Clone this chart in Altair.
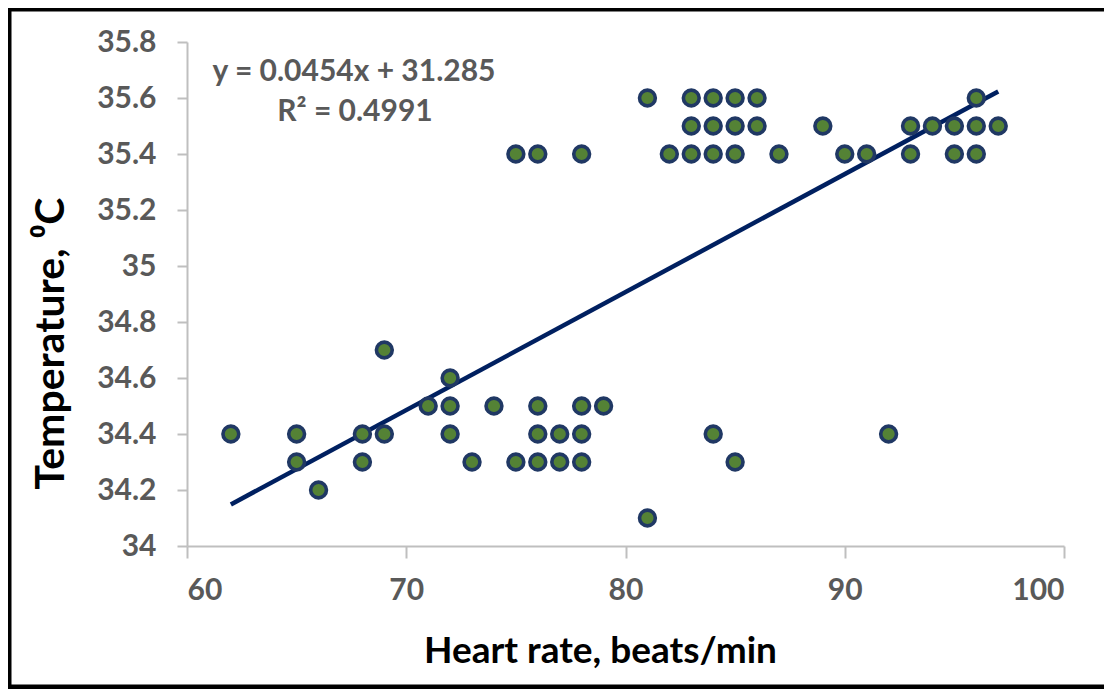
import altair as alt
import pandas as pd

heart_rate = [62, 65, 65, 66, 68, 68, 69, 69, 71, 72, 72, 72, 73, 74, 75, 76, 76, 76,
              77, 77, 78, 78, 78, 79, 81, 84, 85, 92,
              75, 76, 78, 81, 82, 83, 83, 83, 84, 84, 84, 85, 85, 85, 86, 86, 87,
              89, 90, 91, 93, 93, 94, 95, 95, 96, 96, 96, 97]
temperature = [34.4, 34.4, 34.3, 34.2, 34.4, 34.3, 34.7, 34.4, 34.5, 34.6, 34.5, 34.4,
               34.3, 34.5, 34.3, 34.5, 34.4, 34.3, 34.4, 34.3, 34.5, 34.4, 34.3, 34.5,
               34.1, 34.4, 34.3, 34.4,
               35.4, 35.4, 35.4, 35.6, 35.4, 35.6, 35.5, 35.4, 35.6, 35.5, 35.4, 35.6,
               35.5, 35.4, 35.6, 35.5, 35.4, 35.5, 35.4, 35.4, 35.5, 35.4, 35.5, 35.5,
               35.4, 35.6, 35.5, 35.4, 35.5]
x_ticks = [60, 70, 80, 90, 100]
y_ticks = [34, 34.2, 34.4, 34.6, 34.8, 35, 35.2, 35.4, 35.6, 35.8]
equation_lines = ["y = 0.0454x + 31.285", "R\u00b2 = 0.4991"]
x_title = "Heart rate, beats/min"
y_title = "Temperature, \u2070C"

df = pd.DataFrame({"hr": heart_rate, "temp": temperature})

FONT = "Lato"
W, H = 877, 504

xs = alt.Scale(domain=[60, 100], nice=False)
ys = alt.Scale(domain=[34, 35.8], nice=False, zero=False)

x_axis = alt.Axis(values=x_ticks, title=x_title, grid=False, labelFont=FONT,
                  labelFontSize=30, labelFontWeight="bold", labelColor="#595959",
                  labelPadding=17, tickSize=12, titleFont=FONT, titleFontSize=37,
                  titleFontWeight="bold", titleColor="#000000", titleX=413, titleY=116,
                  titleAlign="center", titleBaseline="alphabetic")
y_axis = alt.Axis(values=y_ticks, title=y_title, grid=False, format="~r", labelFont=FONT,
                  labelFontSize=30, labelFontWeight="bold", labelColor="#595959",
                  labelPadding=21, tickSize=10, titleFont=FONT, titleFontSize=41,
                  titleFontWeight="bold", titleColor="#000000", titleX=-124, titleY=301,
                  titleAlign="center", titleBaseline="alphabetic", titleAngle=270)

points = alt.Chart(df).mark_point(filled=True, size=250, fill="#548235", stroke="#203864",
                                  strokeWidth=3.6, opacity=1).encode(
    x=alt.X("hr:Q", scale=xs, axis=x_axis),
    y=alt.Y("temp:Q", scale=ys, axis=y_axis),
)

trend = alt.Chart(df).transform_regression("hr", "temp").mark_line(
    color="#002060", strokeWidth=4.5).encode(
    x=alt.X("hr:Q", scale=xs),
    y=alt.Y("temp:Q", scale=ys),
)

one = pd.DataFrame({"k": [0]})
eq1 = alt.Chart(one).mark_text(text=equation_lines[0], font=FONT, fontSize=30,
                                fontWeight="bold", color="#595959", align="center",
                                baseline="middle").encode(x=alt.value(167), y=alt.value(30))
eq2 = alt.Chart(one).mark_text(text=equation_lines[1], font=FONT, fontSize=30,
                                fontWeight="bold", color="#595959", align="center",
                                baseline="middle").encode(x=alt.value(168), y=alt.value(70))

border = alt.Chart(one).mark_rect(filled=False, stroke="#000000", strokeWidth=5).encode(
    x=alt.value(-178), x2=alt.value(940), y=alt.value(-33), y2=alt.value(645))

chart = alt.layer(border, trend, points, eq1, eq2).properties(
    width=W, height=H,
    autosize=alt.AutoSizeParams(type="none"),
    padding={"left": 179, "top": 34, "right": 40, "bottom": 143},
    background="white",
).configure_view(stroke=None).configure_axis(
    domainColor="#bfbfbf", domainWidth=2, tickColor="#bfbfbf", tickWidth=2)

chart.save("out.html", embed_options={"renderer": "svg", "actions": False})
